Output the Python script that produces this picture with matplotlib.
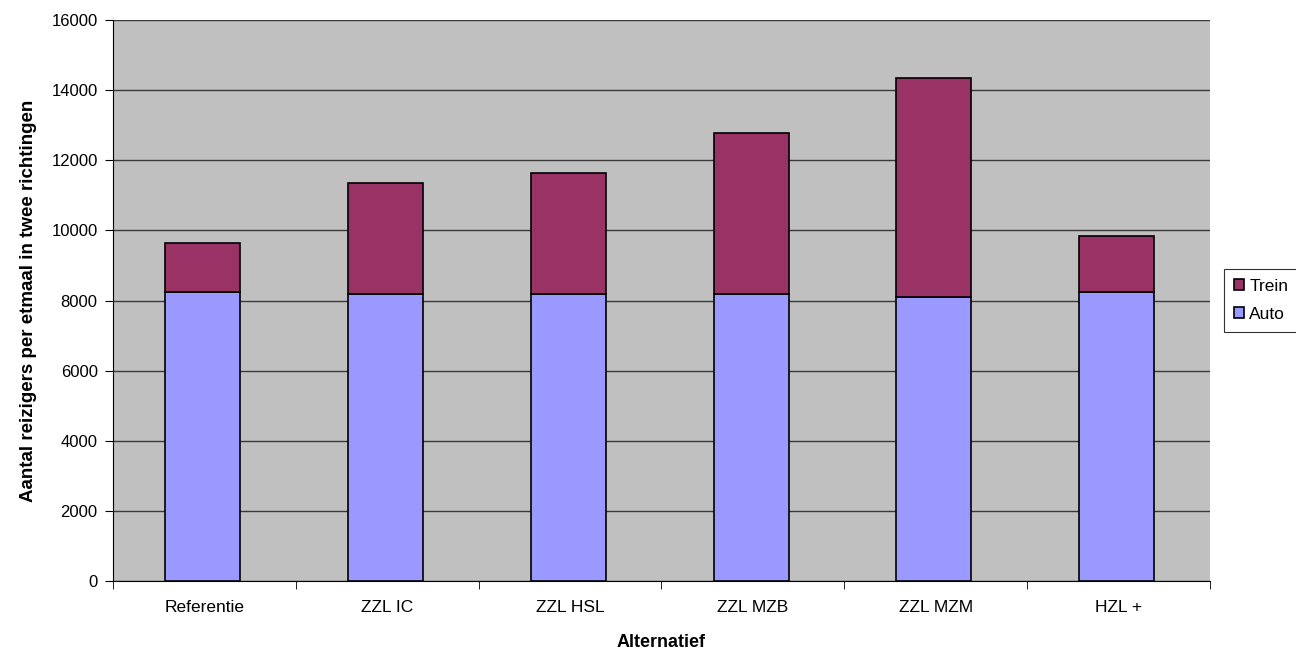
import numpy as np
import matplotlib.pyplot as plt

plt.rcParams['font.family'] = ['Liberation Sans', 'DejaVu Sans']

alternatieven = ["Referentie", "ZZL IC", "ZZL HSL", "ZZL MZB", "ZZL MZM", "HZL +"]
auto = [8250, 8190, 8200, 8200, 8090, 8250]
trein = [1390, 3170, 3430, 4570, 6270, 1600]

fig = plt.figure(figsize=(12.96, 6.54), dpi=100)
ax = fig.add_axes([0.0872, 0.1116, 0.8464, 0.8578])
ax.set_facecolor('#c0c0c0')

x = np.arange(len(alternatieven))
w = 0.41
b1 = ax.bar(x - 0.01, auto, w, color='#9999ff', edgecolor='black', linewidth=1.2, label='Auto', zorder=3)
b2 = ax.bar(x - 0.01, trein, w, bottom=auto, color='#993366', edgecolor='black', linewidth=1.2, label='Trein', zorder=3)

ax.set_ylim(0, 16000)
ax.set_xlim(-0.5, len(alternatieven) - 0.5)
ax.set_yticks(np.arange(0, 16001, 2000))
ax.yaxis.grid(True, color='#3a3a3a', linewidth=1.0, zorder=1)
ax.set_axisbelow(True)

ax.set_xticks(x)
ax.set_xticklabels(alternatieven, fontsize=12.5)
ax.set_xticks(np.arange(-0.5, len(alternatieven)), minor=True)
ax.tick_params(axis='x', which='major', length=0, pad=14)
ax.tick_params(axis='x', which='minor', length=6, direction='out', color='black')
ax.tick_params(axis='y', length=6, direction='out', labelsize=12, color='black', pad=5)

for s in ['top', 'right']:
    ax.spines[s].set_visible(False)
ax.spines['left'].set_color('black')
ax.spines['bottom'].set_color('black')

ax.set_xlabel('Alternatief', fontsize=13, fontweight='bold', labelpad=13)
ax.set_ylabel('Aantal reizigers per etmaal in twee richtingen', fontsize=13.5, fontweight='bold', labelpad=10)

leg = ax.legend([b2, b1], ['Trein', 'Auto'], loc='center left', bbox_to_anchor=(1.013, 0.5),
                fontsize=12.5, frameon=True, fancybox=False, edgecolor='black',
                handlelength=0.6, handleheight=0.6, handletextpad=0.3, borderpad=0.55,
                labelspacing=0.75, borderaxespad=0)
leg.get_frame().set_linewidth(0.8)

fig.savefig('out.png', dpi=100)
